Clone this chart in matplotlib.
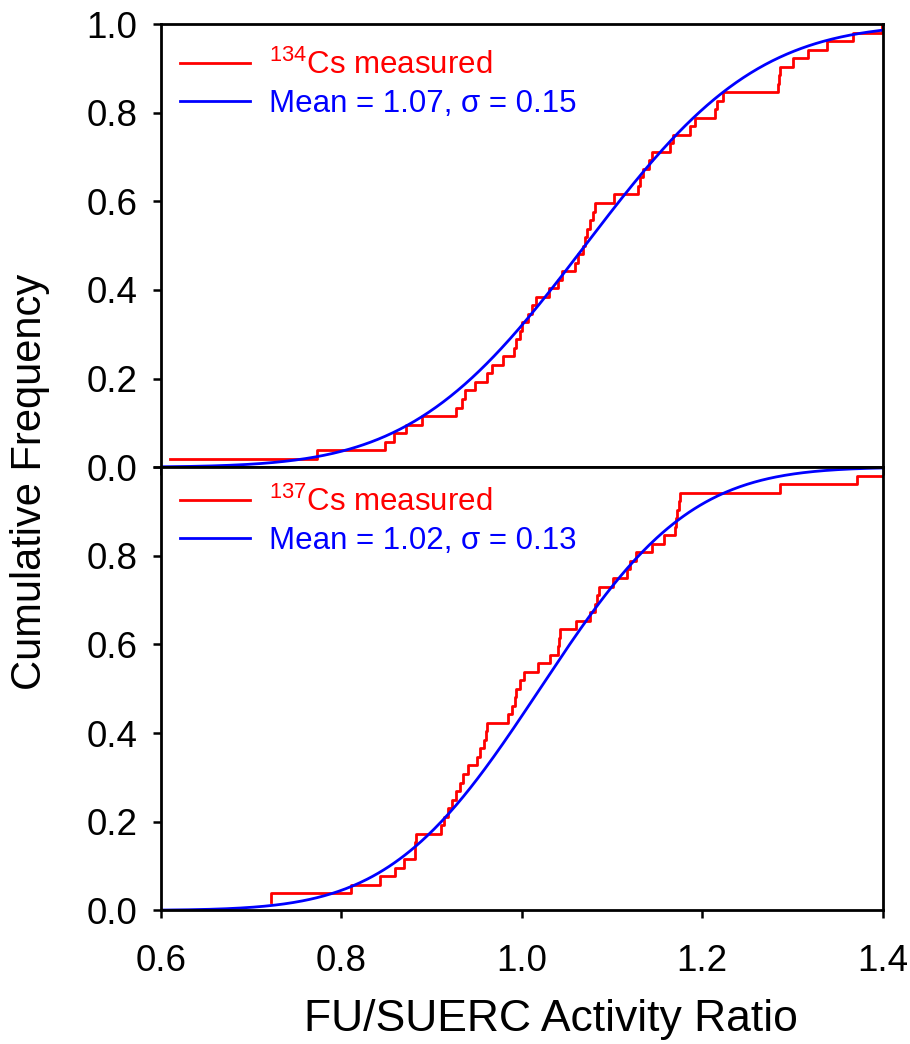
import math
import numpy as np
import matplotlib
matplotlib.use('Agg')
import matplotlib.pyplot as plt
from matplotlib.ticker import FormatStrFormatter

plt.rcParams['font.family'] = ['Liberation Sans', 'DejaVu Sans']
plt.rcParams['mathtext.fontset'] = 'custom'
plt.rcParams['mathtext.rm'] = 'Liberation Sans'
plt.rcParams['mathtext.it'] = 'Liberation Sans:italic'

# sorted FU/SUERC ratios, 52 samples each
cs134 = [0.610, 0.773, 0.848, 0.858, 0.871, 0.889, 0.927, 0.934, 0.937, 0.948,
         0.961, 0.967, 0.979, 0.991, 0.994, 0.998, 1.000, 1.007, 1.011, 1.016,
         1.030, 1.040, 1.044, 1.059, 1.062, 1.068, 1.070, 1.072, 1.075, 1.079,
         1.081, 1.102, 1.129, 1.131, 1.134, 1.141, 1.144, 1.164, 1.168, 1.186,
         1.192, 1.214, 1.216, 1.223, 1.284, 1.285, 1.286, 1.301, 1.317, 1.338,
         1.367, 1.399]
cs137 = [0.722, 0.722, 0.811, 0.843, 0.859, 0.869, 0.881, 0.882, 0.883, 0.910,
         0.914, 0.918, 0.922, 0.927, 0.931, 0.935, 0.940, 0.950, 0.954, 0.958,
         0.960, 0.961, 0.985, 0.989, 0.992, 0.994, 0.998, 1.002, 1.018, 1.031,
         1.040, 1.041, 1.042, 1.060, 1.075, 1.081, 1.083, 1.085, 1.101, 1.116,
         1.120, 1.127, 1.144, 1.158, 1.170, 1.171, 1.172, 1.174, 1.175, 1.286,
         1.371, 1.450]

fits = [(1.07, 0.15), (1.02, 0.13)]
labels = [r'$^{134}$Cs measured', r'$^{137}$Cs measured']


def norm_cdf(x, mu, sd):
    return np.array([0.5 * (1 + math.erf((v - mu) / (sd * math.sqrt(2)))) for v in x])


fig = plt.figure(figsize=(9.1, 10.44), dpi=100)
fig.subplots_adjust(left=0.177, right=0.970, top=0.977, bottom=0.128, hspace=0)
ax1 = fig.add_subplot(2, 1, 1)
ax2 = fig.add_subplot(2, 1, 2, sharex=ax1)

xs = np.linspace(0.6, 1.4, 400)
for ax, data, (mu, sd), lab, ytop in zip([ax1, ax2], [cs134, cs137], fits, labels,
                                          [0.985, 0.998]):
    n = len(data)
    ecdf = np.arange(1, n + 1) / n
    ax.step(data, ecdf, where='post', color='#ff0000', lw=2.0, label=lab)
    ax.plot(xs, norm_cdf(xs, mu, sd), color='#0000ff', lw=2.0,
            label='Mean = %.2f, σ = %.2f' % (mu, sd))
    ax.set_xlim(0.6, 1.4)
    ax.set_ylim(0, 1.0)
    ax.set_yticks([0, 0.2, 0.4, 0.6, 0.8, 1.0])
    ax.yaxis.set_major_formatter(FormatStrFormatter('%.1f'))
    ax.tick_params(direction='out', length=6, width=1.8, labelsize=26.5,
                   right=False, top=False)
    ax.tick_params(axis='y', pad=11)
    ax.tick_params(axis='x', pad=18)
    for s in ax.spines.values():
        s.set_linewidth(2.0)
    ax.legend(loc='upper left', bbox_to_anchor=(0, ytop), frameon=False,
              fontsize=22.5, handlelength=2.25, handletextpad=0.6,
              labelspacing=0.25, borderaxespad=0.2, labelcolor='linecolor')

ax1.tick_params(axis='x', labelbottom=False)
ax2.yaxis.get_major_ticks()[-1].label1.set_visible(False)
ax2.set_xticks([0.6, 0.8, 1.0, 1.2, 1.4])
ax2.xaxis.set_major_formatter(FormatStrFormatter('%.1f'))
ax2.set_xlabel('FU/SUERC Activity Ratio', fontsize=32)
ax2.xaxis.set_label_coords(0.54, -0.2)
fig.text(0.033, 0.538, 'Cumulative Frequency', rotation=90, fontsize=30,
         ha='center', va='center')

fig.savefig('out.png', dpi=100)
